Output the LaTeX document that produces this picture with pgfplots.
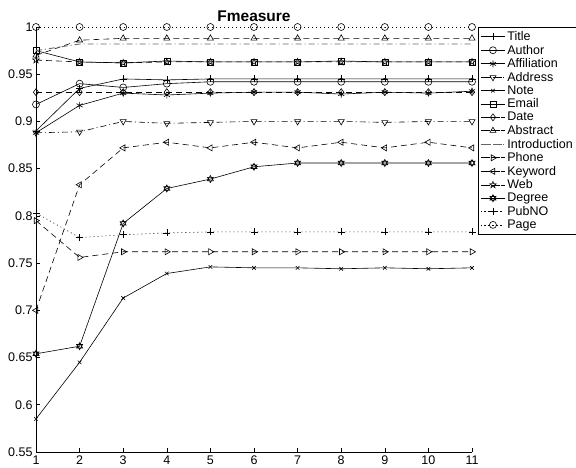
\documentclass[border=0pt]{standalone}
\usepackage{fontspec}
\setmainfont{Liberation Sans}
\usepackage{pgfplots}
\pgfplotsset{compat=1.18}
\usetikzlibrary{plotmarks}

% Matlab-like marks that TikZ does not have
\pgfdeclareplotmark{pentagram}{%
  \pgfpathmoveto{\pgfpointpolar{90}{\pgfplotmarksize}}%
  \pgfpathlineto{\pgfpointpolar{126}{0.4\pgfplotmarksize}}%
  \pgfpathlineto{\pgfpointpolar{162}{\pgfplotmarksize}}%
  \pgfpathlineto{\pgfpointpolar{198}{0.4\pgfplotmarksize}}%
  \pgfpathlineto{\pgfpointpolar{234}{\pgfplotmarksize}}%
  \pgfpathlineto{\pgfpointpolar{270}{0.4\pgfplotmarksize}}%
  \pgfpathlineto{\pgfpointpolar{306}{\pgfplotmarksize}}%
  \pgfpathlineto{\pgfpointpolar{342}{0.4\pgfplotmarksize}}%
  \pgfpathlineto{\pgfpointpolar{18}{\pgfplotmarksize}}%
  \pgfpathlineto{\pgfpointpolar{54}{0.4\pgfplotmarksize}}%
  \pgfpathclose\pgfusepathqstroke}
\pgfdeclareplotmark{hexagram}{%
  \pgfpathmoveto{\pgfpointpolar{90}{\pgfplotmarksize}}%
  \pgfpathlineto{\pgfpointpolar{210}{\pgfplotmarksize}}%
  \pgfpathlineto{\pgfpointpolar{330}{\pgfplotmarksize}}%
  \pgfpathclose
  \pgfpathmoveto{\pgfpointpolar{270}{\pgfplotmarksize}}%
  \pgfpathlineto{\pgfpointpolar{30}{\pgfplotmarksize}}%
  \pgfpathlineto{\pgfpointpolar{150}{\pgfplotmarksize}}%
  \pgfpathclose\pgfusepathqstroke}

\tikzset{
  mdash/.style={dash pattern=on 6pt off 4pt},
  mdot/.style={dash pattern=on 1pt off 3pt},
  mdashdot/.style={dash pattern=on 6pt off 3pt on 1pt off 3pt},
}

\begin{document}
\begin{tikzpicture}
\useasboundingbox (-36pt,-15pt) rectangle (540pt,452pt);
\begin{axis}[
    scale only axis,
    width=436pt, height=425pt,
    xmin=1, xmax=11, ymin=0.55, ymax=1,
    xtick={1,...,11},
    ytick={0.55,0.6,...,1.01},
    axis lines*=left,
    tick align=inside,
    major tick length=4pt,
    tick style={black, line width=0.6pt},
    axis line style={line width=0.6pt},
    clip=false,
    /pgf/number format/assume math mode=true,
    /pgf/number format/fixed,
    /pgf/number format/precision=2,
    ticklabel style={font=\fontsize{12.5}{14}\selectfont},
    title={\textbf{Fmeasure}},
    title style={font=\fontsize{15.5}{17}\selectfont, yshift=-4pt},
    every axis plot/.append style={black, line width=0.6pt, mark size=3.5pt},
    legend style={at={(1.014,1)}, anchor=north west, draw=black,
        line width=0.8pt, font=\fontsize{12.5}{14}\selectfont,
        cells={anchor=west}, row sep=-1pt, inner xsep=2pt, inner ysep=2pt},
    legend image code/.code={%
        \path (0pt,0pt) -- (24pt,0pt);
        \draw[mark repeat=2, mark phase=2, line width=0.6pt, #1]
        plot coordinates {(3pt,0pt) (12pt,0pt) (21pt,0pt)};},
]
% Title
\addplot[mark=+, mark options={solid}] coordinates {(1,0.890) (2,0.935) (3,0.945) (4,0.944) (5,0.945) (6,0.945) (7,0.945) (8,0.945) (9,0.945) (10,0.945) (11,0.945)};
% Author
\addplot[mark=o, mark options={solid}] coordinates {(1,0.918) (2,0.940) (3,0.936) (4,0.940) (5,0.942) (6,0.942) (7,0.942) (8,0.942) (9,0.942) (10,0.942) (11,0.942)};
% Affiliation
\addplot[mark=asterisk, mark options={solid}] coordinates {(1,0.888) (2,0.917) (3,0.930) (4,0.928) (5,0.930) (6,0.931) (7,0.931) (8,0.929) (9,0.931) (10,0.930) (11,0.932)};
% Address
\addplot[mdashdot, mark=triangle, mark options={solid, rotate=180}] coordinates {(1,0.888) (2,0.889) (3,0.900) (4,0.898) (5,0.899) (6,0.900) (7,0.900) (8,0.900) (9,0.899) (10,0.900) (11,0.900)};
% Note
\addplot[mark=x, mark options={solid}, mark size=2.5pt] coordinates {(1,0.585) (2,0.645) (3,0.713) (4,0.739) (5,0.746) (6,0.745) (7,0.745) (8,0.744) (9,0.745) (10,0.744) (11,0.745)};
% Email
\addplot[mark=square, mark options={solid}, mark size=3pt] coordinates {(1,0.975) (2,0.963) (3,0.962) (4,0.964) (5,0.963) (6,0.963) (7,0.963) (8,0.964) (9,0.963) (10,0.963) (11,0.963)};
% Date
\addplot[mdash, mark=diamond, mark options={solid}] coordinates {(1,0.931) (2,0.931) (3,0.931) (4,0.931) (5,0.931) (6,0.931) (7,0.931) (8,0.931) (9,0.931) (10,0.931) (11,0.931)};
% Abstract
\addplot[mdash, mark=triangle, mark options={solid}] coordinates {(1,0.970) (2,0.986) (3,0.988) (4,0.988) (5,0.988) (6,0.988) (7,0.988) (8,0.988) (9,0.988) (10,0.988) (11,0.988)};
% Introduction
\addplot[mdashdot, gray!80!black, line width=0.9pt] coordinates {(1,0.975) (2,0.982) (3,0.982) (4,0.982) (5,0.982) (6,0.982) (7,0.982) (8,0.982) (9,0.982) (10,0.982) (11,0.982)};
% Phone
\addplot[mdash, mark=triangle, mark options={solid, rotate=-90}] coordinates {(1,0.795) (2,0.756) (3,0.762) (4,0.762) (5,0.762) (6,0.762) (7,0.762) (8,0.762) (9,0.762) (10,0.762) (11,0.762)};
% Keyword
\addplot[mdash, mark=triangle, mark options={solid, rotate=90}] coordinates {(1,0.700) (2,0.833) (3,0.872) (4,0.878) (5,0.872) (6,0.878) (7,0.872) (8,0.878) (9,0.872) (10,0.878) (11,0.872)};
% Web
\addplot[mdash, mark=pentagram, mark options={solid}] coordinates {(1,0.965) (2,0.963) (3,0.962) (4,0.963) (5,0.963) (6,0.963) (7,0.963) (8,0.963) (9,0.963) (10,0.963) (11,0.963)};
% Degree
\addplot[mark=hexagram, mark options={solid}] coordinates {(1,0.654) (2,0.662) (3,0.792) (4,0.829) (5,0.839) (6,0.852) (7,0.856) (8,0.856) (9,0.856) (10,0.856) (11,0.856)};
% PubNO
\addplot[mdot, mark=+, mark options={solid}] coordinates {(1,0.803) (2,0.777) (3,0.780) (4,0.782) (5,0.783) (6,0.783) (7,0.783) (8,0.783) (9,0.783) (10,0.783) (11,0.783)};
% Page
\addplot[mdot, mark=o, mark options={solid}] coordinates {(1,1) (2,1) (3,1) (4,1) (5,1) (6,1) (7,1) (8,1) (9,1) (10,1) (11,1)};
\legend{Title, Author, Affiliation, Address, Note, Email, Date, Abstract, Introduction, Phone, Keyword, Web, Degree, PubNO, Page}
\end{axis}
\end{tikzpicture}
\end{document}
